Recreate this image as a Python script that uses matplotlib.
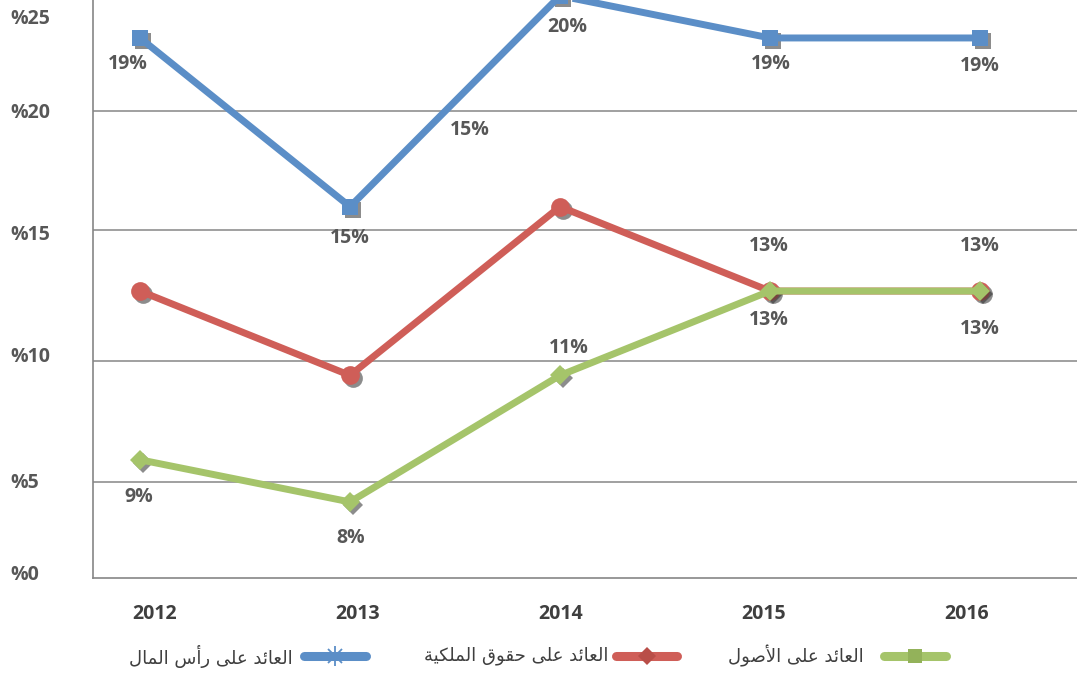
import matplotlib
matplotlib.use("Agg")
import matplotlib.pyplot as plt
from matplotlib.transforms import ScaledTranslation

# ---------------- data ----------------
years = [2012, 2013, 2014, 2015, 2016]
series_names = ["العائد على رأس المال", "العائد على حقوق الملكية", "العائد على الأصول"]
roc_values = [19, 15, 20, 19, 19]      # return on capital (blue)
roe_values = [13, 11, 15, 13, 13]      # return on equity (red)
roa_values = [9, 8, 11, 13, 13]        # return on assets (green)
year_labels = ["2012", "2013", "2014", "2015", "2016"]
y_tick_labels = ["%0", "%5", "%10", "%15", "%20", "%25"]

# ---------------- layout / style ----------------
W, H = 1077, 674
AX_LEFT, AX_BOTTOM = 93, 578            # pixel frame of the plot area
# the original frame (grid/tick labels) is drawn in pixel units above the baseline
GRID_PX = [96, 217, 348, 467]
YTICK_PX = [6, 98, 223, 346, 468, 562]
XTICK_PX = [154.5, 357.5, 560.5, 763.5, 966.5]
# data scale limits for the plotted series
DATA_XLIM = (2011.776, 2016.462)
DATA_YLIM = (6.197, 19.90)

COLORS = ["#5B8EC7", "#CF5E58", "#A5C46A"]
MARKERS = ["s", "o", "D"]
MSIZES = [11, 13.5, 10]
# label offsets in pixels (dx, dy up); None = no label
LABEL_OFFSETS = [
    [(-12, -26), (0, -31), (7, -31), (1, -26), (0, -28)],
    [None, None, (-90, 77), (-1, 45), (0, 45)],
    [(-1, -37), (1, -36), (9, 27), (-1, -29), (0, -38)],
]
TEXT_GREY = "#575757"
DARK_GREY = "#3f3f3f"
FRAME_GREY = "#868686"


# ---------------- minimal Arabic shaping ----------------
_FORMS = {
    'ا': ('\uFE8D', '\uFE8E', None, None),
    'أ': ('\uFE83', '\uFE84', None, None),
    'ل': ('\uFEDD', '\uFEDE', '\uFEDF', '\uFEE0'),
    'ع': ('\uFEC9', '\uFECA', '\uFECB', '\uFECC'),
    'ئ': ('\uFE89', '\uFE8A', '\uFE8B', '\uFE8C'),
    'د': ('\uFEA9', '\uFEAA', None, None),
    'ى': ('\uFEEF', '\uFEF0', None, None),
    'ر': ('\uFEAD', '\uFEAE', None, None),
    'س': ('\uFEB1', '\uFEB2', '\uFEB3', '\uFEB4'),
    'م': ('\uFEE1', '\uFEE2', '\uFEE3', '\uFEE4'),
    'ح': ('\uFEA1', '\uFEA2', '\uFEA3', '\uFEA4'),
    'ق': ('\uFED5', '\uFED6', '\uFED7', '\uFED8'),
    'و': ('\uFEED', '\uFEEE', None, None),
    'ك': ('\uFED9', '\uFEDA', '\uFEDB', '\uFEDC'),
    'ي': ('\uFEF1', '\uFEF2', '\uFEF3', '\uFEF4'),
    'ة': ('\uFE93', '\uFE94', None, None),
    'ص': ('\uFEB9', '\uFEBA', '\uFEBB', '\uFEBC'),
}
_LAMALEF = {'ا': ('\uFEFB', '\uFEFC'), 'أ': ('\uFEF7', '\uFEF8')}


def shape_arabic(text):
    toks = []
    i = 0
    while i < len(text):
        c = text[i]
        if c == 'ل' and i + 1 < len(text) and text[i + 1] in _LAMALEF:
            toks.append(('LA', text[i + 1]))
            i += 2
        else:
            toks.append(('C', c))
            i += 1

    def is_ar(t):
        return t[0] == 'LA' or t[1] in _FORMS

    def joins_next(t):
        return t[0] == 'C' and t[1] in _FORMS and _FORMS[t[1]][2] is not None

    out = []
    for k, t in enumerate(toks):
        if not is_ar(t):
            out.append(t[1])
            continue
        prev_j = k > 0 and is_ar(toks[k - 1]) and joins_next(toks[k - 1])
        next_j = joins_next(t) and k + 1 < len(toks) and is_ar(toks[k + 1])
        if t[0] == 'LA':
            iso, fin = _LAMALEF[t[1]]
            out.append(fin if prev_j else iso)
            continue
        iso, fin, ini, med = _FORMS[t[1]]
        if prev_j and next_j:
            out.append(med)
        elif prev_j:
            out.append(fin)
        elif next_j:
            out.append(ini)
        else:
            out.append(iso)
    return ''.join(out)[::-1]


# ---------------- figure ----------------
fig = plt.figure(figsize=(W / 100, H / 100), dpi=100)
rect = [AX_LEFT / W, (H - AX_BOTTOM) / H, (W - AX_LEFT) / W, AX_BOTTOM / H]

label_font = dict(family=["Open Sans", "DejaVu Sans"], fontweight="bold", fontsize=14)

# frame axes: gridlines, spines, tick labels
gax = fig.add_axes(rect)
gax.set_xlim(AX_LEFT, W)
gax.set_ylim(0, AX_BOTTOM)
for s in ["top", "right"]:
    gax.spines[s].set_visible(False)
for s in ["left", "bottom"]:
    gax.spines[s].set_color(FRAME_GREY)
    gax.spines[s].set_linewidth(1.2)
for g in GRID_PX:
    gax.axhline(g, color=FRAME_GREY, lw=1.1, zorder=0)
gax.set_yticks(YTICK_PX, labels=y_tick_labels)
gax.set_xticks(XTICK_PX, labels=year_labels)
gax.tick_params(axis="y", length=0, pad=(AX_LEFT - 10) * 0.72)
gax.tick_params(axis="x", length=0, pad=19)
for t in gax.get_yticklabels():
    t.set_ha("left")
    t.set_color(TEXT_GREY)
    t.set(**label_font)
for t in gax.get_xticklabels():
    t.set_color(DARK_GREY)
    t.set(**label_font)

# data axes
ax = fig.add_axes(rect)
ax.set_xlim(*DATA_XLIM)
ax.set_ylim(*DATA_YLIM)
ax.axis("off")

shadow_tr = ax.transData + ScaledTranslation(3 / 100, -3 / 100, fig.dpi_scale_trans)
all_values = [roc_values, roe_values, roa_values]
for vals, color, mk, ms, offs in zip(all_values, COLORS, MARKERS, MSIZES, LABEL_OFFSETS):
    ax.plot(years, vals, ls="none", marker=mk, ms=ms, color="#2e2e2e",
            alpha=0.55, transform=shadow_tr, clip_on=False, mew=0)
    ax.plot(years, vals, color=color, lw=5, marker=mk, ms=ms, mfc=color, mec=color,
            mew=0, clip_on=False, solid_joinstyle="round")
    for x, v, off in zip(years, vals, offs):
        if off is None:
            continue
        ax.annotate(f"{v}%", (x, v), xytext=off, textcoords="offset pixels",
                    ha="center", va="center", color=TEXT_GREY, annotation_clip=False,
                    **label_font)

# legend (right-to-left: text to the left of its key)
lax = fig.add_axes([0, 0, 1, 1])
lax.set_xlim(0, W)
lax.set_ylim(H, 0)
lax.axis("off")
LEG_Y = 656
LEG_LINE_X = [(304, 366), (616, 677), (884, 946)]
LEG_TEXT_RIGHT = [293, 608, 864]
LEG_MARK_COLORS = ["#5B8EC7", "#B94E48", "#93B25A"]
for name, color, mcol, (x0, x1), xr, idx in zip(series_names, COLORS, LEG_MARK_COLORS,
                                                LEG_LINE_X, LEG_TEXT_RIGHT, range(3)):
    lax.plot([x0, x1], [LEG_Y, LEG_Y], color=color, lw=6.5, solid_capstyle="round")
    xm = (x0 + x1) / 2
    if idx == 0:
        lax.plot([xm], [LEG_Y], marker="x", ms=10, mew=1.3, color=mcol)
        lax.plot([xm], [LEG_Y], marker="|", ms=14, mew=1.3, color=mcol)
    elif idx == 1:
        lax.plot([xm], [LEG_Y], marker="D", ms=9.5, color=mcol, mew=0)
    else:
        lax.plot([xm], [LEG_Y], marker="s", ms=10.5, color=mcol, mew=0)
    lax.text(xr, LEG_Y, shape_arabic(name), ha="right", va="center", fontsize=13,
             family=["DejaVu Sans"], color=DARK_GREY)

fig.savefig("out.png", dpi=100)
